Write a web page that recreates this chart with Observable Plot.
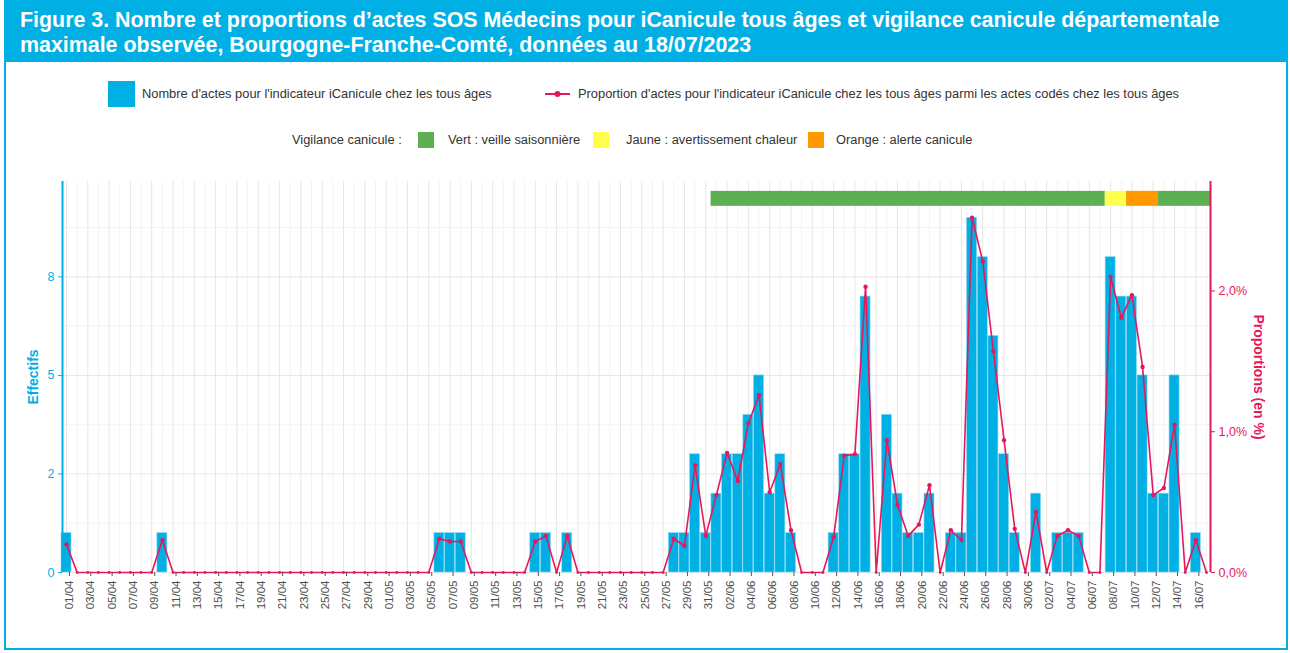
<!DOCTYPE html>
<html><head><meta charset="utf-8">
<script src="https://cdn.jsdelivr.net/npm/d3@7"></script>
<script src="https://cdn.jsdelivr.net/npm/@observablehq/plot@0.6"></script>
<style>
body{margin:0;background:#fff;font-family:"Liberation Sans",Arial,sans-serif;}
#page{position:relative;width:1290px;height:653px;overflow:hidden;background:#fff;}
#chart{position:absolute;left:0;top:0;}
#frame{position:absolute;left:4px;top:0;width:1284px;height:650px;border:2px solid #00b0e5;box-sizing:border-box;}
#title{position:absolute;left:4px;top:0;width:1284px;height:62px;background:#00b0e5;color:#fff;font-weight:bold;font-size:21.4px;line-height:25px;padding:8px 0 0 16px;box-sizing:border-box;white-space:nowrap;}
.lt{position:absolute;font-size:12.85px;color:#333;white-space:nowrap;line-height:14px;}
.sq{position:absolute;}
</style></head>
<body><div id="page">
<div id="chart"></div>
<div id="frame"></div>
<div id="title">Figure 3. Nombre et proportions d’actes SOS Médecins pour iCanicule tous âges et vigilance canicule départementale<br>maximale observée, Bourgogne-Franche-Comté, données au 18/07/2023</div>
<div id="legend"></div>
</div>
<script>
// ---- data ----
const startDate = "2023-04-01";
// daily counts 01/04 .. 17/07
const countsApril = [1,0,0,0,0,0,0,0,0,1, 0,0,0,0,0,0,0,0,0,0, 0,0,0,0,0,0,0,0,0,0];
const countsMay   = [0,0,0,0,0,1,1,1,0,0, 0,0,0,0,1,1,0,1,0,0, 0,0,0,0,0,0,0,1,1,3, 1];
const countsJune  = [2,3,3,4,5,2,3,1,0,0, 0,1,3,3,7,0,4,2,1,1, 2,0,1,1,9,8,6,3,1,0];
const countsJuly  = [2,0,1,1,1,0,0,8,7,7, 5,2,2,5,0,1,0];
// daily proportions (%)
const propsApril = [0.20,0,0,0,0,0,0,0,0,0.23, 0,0,0,0,0,0,0,0,0,0, 0,0,0,0,0,0,0,0,0,0];
const propsMay   = [0,0,0,0,0,0.24,0.22,0.22,0,0, 0,0,0,0,0.22,0.26,0,0.26,0,0, 0,0,0,0,0,0,0,0.24,0.19,0.76, 0.26];
const propsJune  = [0.55,0.85,0.65,1.06,1.26,0.57,0.77,0.30,0,0, 0,0.25,0.83,0.84,2.03,0,0.94,0.48,0.26,0.34, 0.62,0,0.30,0.23,2.52,2.21,1.57,0.94,0.31,0];
const propsJuly  = [0.43,0,0.26,0.30,0.26,0,0,2.10,1.81,1.97, 1.46,0.55,0.60,1.05,0,0.23,0];
// vigilance canicule
const vigiStart = ["2023-06-01","2023-07-08","2023-07-10","2023-07-13"];
const vigiEnd   = ["2023-07-07","2023-07-09","2023-07-12","2023-07-17"];
const vigiLevel = ["Vert","Jaune","Orange","Vert"];
const vigiLevels = ["Vert","Jaune","Orange"];
const vigiLabels = ["Vert : veille saisonnière","Jaune : avertissement chaleur","Orange : alerte canicule"];
const vigiColors = ["#5cb051","#ffff4d","#ff9900"];
// axes
const yTicks = [0, 2.5, 5, 7.5];
const yTickLabels = ["0","2","5","8"];
const yMinor = [1.25, 3.75, 6.25, 8.75];
const propTicks = [0, 1, 2];
const legendCount = "Nombre d'actes pour l'indicateur iCanicule chez les tous âges";
const legendProp = "Proportion d'actes pour l'indicateur iCanicule chez les tous âges parmi les actes codés chez les tous âges";

// ---- build ----
const cyan = "#00b0e5", pink = "#e5185d";
const DAY = 864e5;
const t0 = new Date(startDate + "T00:00:00Z");
const counts = [...countsApril, ...countsMay, ...countsJune, ...countsJuly];
const props = [...propsApril, ...propsMay, ...propsJune, ...propsJuly];
const data = counts.map((c, i) => ({i, date: new Date(+t0 + i * DAY), count: c, prop: props[i]}));
const k = d3.max(counts) / d3.max(props);
const xDomain = [new Date(+t0 - 0.375 * DAY), new Date(+t0 + (counts.length - 1 + 0.375) * DAY)];
const vigi = vigiStart.map((s, j) => ({
  x1: new Date(+new Date(s + "T00:00:00Z") - 0.5 * DAY),
  x2: new Date(+new Date(vigiEnd[j] + "T00:00:00Z") + 0.5 * DAY),
  level: vigiLevel[j]
}));
const fmtDay = d3.utcFormat("%d/%m");

const chart = Plot.plot({
  width: 1290, height: 653,
  marginLeft: 62, marginRight: 80, marginTop: 181, marginBottom: 81,
  style: {fontFamily: "'Liberation Sans', Arial, sans-serif", background: "transparent"},
  x: {type: "utc", domain: xDomain},
  y: {domain: [0, 9.92]},
  color: {domain: vigiLevels, range: vigiColors},
  marks: [
    Plot.ruleY(yMinor, {stroke: "#f3f3f3"}),
    Plot.ruleX(data.filter(d => d.i % 2 === 1), {x: "date", stroke: "#f3f3f3"}),
    Plot.ruleX(data.filter(d => d.i % 2 === 0), {x: "date", stroke: "#e6e6e6"}),
    Plot.ruleY(yTicks, {stroke: "#e6e6e6"}),
    Plot.rect(data.filter(d => d.count > 0), {
      x1: d => new Date(+d.date - 0.47 * DAY), x2: d => new Date(+d.date + 0.47 * DAY),
      y1: 0, y2: "count", fill: cyan, stroke: "#8ad9f3", strokeWidth: 0.6
    }),
    Plot.rect(vigi, {x1: "x1", x2: "x2", y1: 9.29, y2: 9.67, fill: "level", clip: true}),
    Plot.line(data, {x: "date", y: d => d.prop * k, stroke: pink, strokeWidth: 1.6}),
    Plot.dot(data.filter(d => d.prop > 0), {x: "date", y: d => d.prop * k, r: 2.2, fill: pink}),
    Plot.dot(data.filter(d => d.prop === 0), {x: "date", y: 0, r: 1.4, fill: pink}),
    Plot.ruleX([xDomain[0]], {stroke: cyan, strokeWidth: 2}),
    Plot.ruleX([xDomain[1]], {stroke: pink, strokeWidth: 2}),
    Plot.axisY(yTicks, {anchor: "left", tickFormat: d => yTickLabels[yTicks.indexOf(d)], color: cyan, tickSize: 4, tickPadding: 4, fontSize: 12.5, label: null}),
    Plot.axisY(propTicks.map(p => p * k), {anchor: "right", tickFormat: d => (d / k).toFixed(1).replace(".", ",") + "%", color: pink, tickSize: 4, tickPadding: 4, fontSize: 12.5, label: null}),
    Plot.axisX(data.filter(d => d.i % 2 === 0).map(d => d.date), {tickRotate: -90, tickFormat: fmtDay, tickSize: 4, tickPadding: 4, fontSize: 11.5, fill: "#4d4d4d", stroke: "#555", dx: 3, label: null}),
    Plot.text(["Effectifs"], {frameAnchor: "left", textAnchor: "middle", dx: -29, rotate: -90, fill: cyan, fontWeight: "bold", fontSize: 14}),
    Plot.text(["Proportions (en %)"], {frameAnchor: "right", textAnchor: "middle", dx: 48, rotate: 90, fill: pink, fontWeight: "bold", fontSize: 14})
  ]
});
document.getElementById("chart").appendChild(chart);

// ---- legends ----
const L = document.getElementById("legend");
function add(html) { L.insertAdjacentHTML("beforeend", html); }
add(`<div class="sq" style="left:108px;top:81px;width:27px;height:26px;background:${cyan}"></div>`);
add(`<div class="lt" style="left:142px;top:87px">${legendCount}</div>`);
add(`<svg style="position:absolute;left:543px;top:88px" width="30" height="12"><line x1="2" y1="6" x2="27" y2="6" stroke="${pink}" stroke-width="2"/><circle cx="14.5" cy="6" r="3" fill="${pink}"/></svg>`);
add(`<div class="lt" style="left:578px;top:87px">${legendProp}</div>`);
add(`<div class="lt" style="left:292px;top:133px">Vigilance canicule :</div>`);
const sqX = [418, 593, 808], txX = [448, 626, 836];
vigiLevels.forEach((lv, j) => {
  add(`<div class="sq" style="left:${sqX[j]}px;top:132px;width:16px;height:16px;background:${vigiColors[j]}"></div>`);
  add(`<div class="lt" style="left:${txX[j]}px;top:133px">${vigiLabels[j]}</div>`);
});
</script>
</body></html>
